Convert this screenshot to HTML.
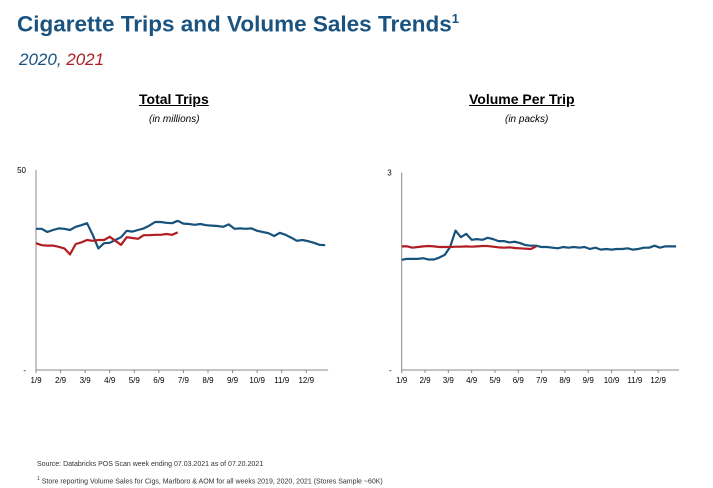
<!DOCTYPE html>
<html><head><meta charset="utf-8"><style>
body{margin:0;width:713px;height:488px;background:#fff;font-family:"Liberation Sans",sans-serif;overflow:hidden;position:relative}
.a{position:absolute;white-space:nowrap}
</style></head><body>
<div class="a" style="left:17px;top:11px;font-size:22.5px;font-weight:bold;color:#1a5380">Cigarette Trips and Volume Sales Trends<sup style="font-size:13px">1</sup></div>
<div class="a" style="left:19px;top:50px;font-size:17px;font-style:italic;color:#1a5380">2020, <span style="color:#b01e23">2021</span></div>
<div class="a" style="left:139px;top:91px;font-size:14px;font-weight:bold;text-decoration:underline">Total Trips</div>
<div class="a" style="left:149px;top:114px;font-size:10px;font-style:italic">(in millions)</div>
<div class="a" style="left:469px;top:91px;font-size:14px;font-weight:bold;text-decoration:underline">Volume Per Trip</div>
<div class="a" style="left:505px;top:114px;font-size:10px;font-style:italic">(in packs)</div>
<svg id="s" width="713" height="488" style="position:absolute;left:0;top:0"></svg>
<div class="a" style="left:37px;top:461px;font-size:7px;color:#333">Source: Databricks POS Scan week ending 07.03.2021 as of 07.20.2021</div>
<div class="a" style="left:37px;top:476px;font-size:7px;color:#333"><sup style="font-size:5px">1</sup> Store reporting Volume Sales for Cigs, Marlboro &amp; AOM for all weeks 2019, 2020, 2021 (Stores Sample ~60K)</div>
<script>
const monthLabels=["1/9","2/9","3/9","4/9","5/9","6/9","7/9","8/9","9/9","10/9","11/9","12/9"];
const trips2020=[35.3,35.3,34.5,35,35.4,35.3,35,35.8,36.2,36.7,33.8,30.4,31.7,31.8,32.5,33.2,34.8,34.6,35,35.4,36.1,37,37,36.8,36.7,37.3,36.6,36.5,36.3,36.5,36.2,36.1,36,35.8,36.4,35.3,35.4,35.3,35.4,34.8,34.5,34.2,33.5,34.3,33.8,33.1,32.3,32.5,32.2,31.8,31.3,31.2];
const trips2021=[31.7,31.2,31.1,31.1,30.8,30.4,28.9,31.5,31.9,32.5,32.3,32.5,32.5,33.3,32.3,31.3,33.2,33,32.8,33.7,33.7,33.8,33.8,34,33.8,34.4];
const vpt2020=[1.675,1.69,1.69,1.69,1.70,1.68,1.68,1.71,1.75,1.87,2.12,2.02,2.07,1.98,1.99,1.98,2.01,1.99,1.96,1.96,1.94,1.95,1.93,1.90,1.89,1.89,1.87,1.87,1.86,1.85,1.87,1.86,1.87,1.86,1.87,1.84,1.86,1.83,1.84,1.83,1.84,1.84,1.85,1.83,1.84,1.86,1.86,1.89,1.86,1.88,1.88,1.88];
const vpt2021=[1.88,1.88,1.86,1.87,1.88,1.885,1.88,1.87,1.87,1.87,1.875,1.875,1.88,1.875,1.88,1.885,1.885,1.875,1.865,1.86,1.865,1.855,1.85,1.845,1.84,1.88];
const NS="http://www.w3.org/2000/svg";
const svg=document.getElementById('s');
function mk(t,a){const e=document.createElementNS(NS,t);for(const k in a)e.setAttribute(k,a[k]);svg.appendChild(e);return e;}
function chart(name,x0,wk,yTop,yBot,max,topLabel,s1,s2){
  const X=i=>x0+wk*i, Y=v=>yBot-(v/max)*(yBot-yTop);
  let e=mk('line',{x1:x0,y1:yTop,x2:x0,y2:yBot,stroke:'#888','stroke-width':1});
  
  e=mk('line',{x1:x0,y1:yBot,x2:X(51)+3,y2:yBot,stroke:'#888','stroke-width':1});
  
  e=mk('text',{x:x0-10,y:Y(max)+3,'font-size':8,'text-anchor':'end'});e.textContent=topLabel;
  
  e=mk('text',{x:x0-10,y:yBot+3,'font-size':8,'text-anchor':'end'});e.textContent='-';
  
  monthLabels.forEach((m,k)=>{
    const t=mk('text',{x:X(k*52/12),y:yBot+13,'font-size':8,'text-anchor':'middle'});t.textContent=m;
    
    const l=mk('line',{x1:X(k*52/12),y1:yBot,x2:X(k*52/12),y2:yBot+3,stroke:'#888'});
    
  });
  [[s1,'#17527c','2020'],[s2,'#b01e23','2021']].forEach(([s,c,n])=>{
    const p=mk('polyline',{points:s.map((v,i)=>X(i)+','+Y(v)).join(' '),fill:'none',stroke:c,'stroke-width':2.2,'stroke-linejoin':'round'});
    
  });
}
chart('trips',36,5.67,170,370,50,'50',trips2020,trips2021);
chart('vpt',401.7,5.38,172.7,370,3,'3',vpt2020,vpt2021);
</script>
</body></html>
